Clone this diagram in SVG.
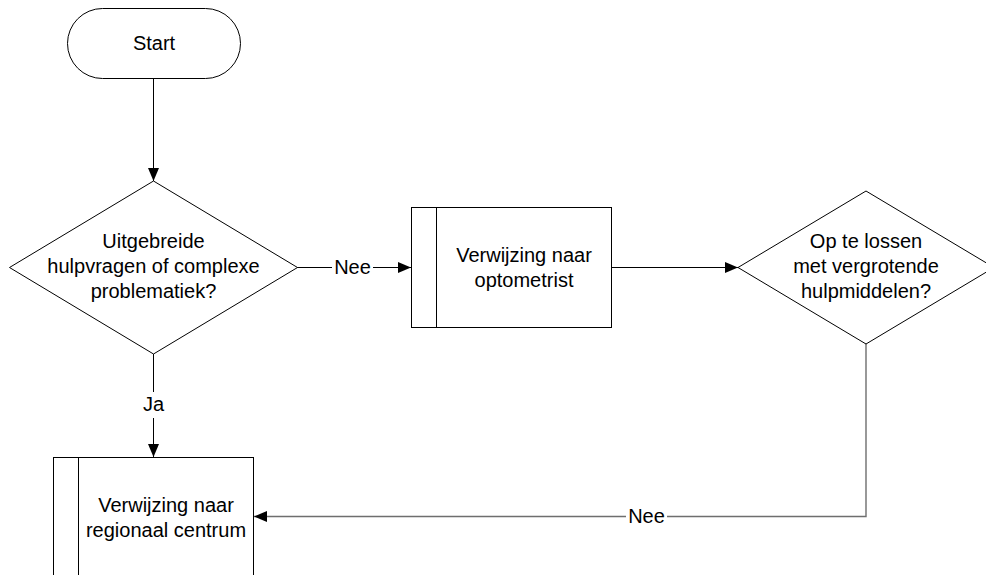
<svg xmlns="http://www.w3.org/2000/svg" width="986" height="575" viewBox="0 0 986 575">
<style>
.shape{fill:#fff;stroke:#000;stroke-width:1}
.conn{fill:none;stroke:#000;stroke-width:1}
.gray{stroke:#6e6e6e;stroke-width:1.4}
text{font-family:"Liberation Sans",Arial,sans-serif;font-size:20px;fill:#000;text-anchor:middle}
.lblbg{fill:#fff;stroke:none}
</style>
<defs>
<marker id="arr" markerUnits="userSpaceOnUse" markerWidth="14" markerHeight="12" refX="13" refY="5.5" orient="auto">
<path d="M0,0 L13,5.5 L0,11 Z" fill="#000"/>
</marker>
</defs>
<g id="connectors">
<path class="conn" d="M153.5,78 V181" marker-end="url(#arr)"/>
<path class="conn" d="M297,267.5 H411" marker-end="url(#arr)"/>
<rect class="lblbg" x="332" y="255" width="41" height="24"/>
<text x="352.5" y="274">Nee</text>
<path class="conn" d="M612,267.5 H738" marker-end="url(#arr)"/>
<path class="conn gray" d="M866,344 V516.5 H254" marker-end="url(#arr)"/>
<rect class="lblbg" x="626" y="504" width="41" height="24"/>
<text x="646.5" y="523">Nee</text>
<path class="conn" d="M153.5,354 V457" marker-end="url(#arr)"/>
<rect class="lblbg" x="140" y="392" width="27" height="26"/>
<text x="153.5" y="411">Ja</text>
</g>
<g id="start">
<rect class="shape" x="67.5" y="8.5" width="173" height="70" rx="35" ry="35"/>
<text x="154" y="50">Start</text>
</g>
<g id="decision1">
<polygon class="shape" points="153.5,181 297.5,267.5 153.5,354 9.5,267.5"/>
<text x="153.5" y="248">Uitgebreide</text>
<text x="153.5" y="273">hulpvragen of complexe</text>
<text x="153.5" y="298">problematiek?</text>
</g>
<g id="process1">
<rect class="shape" x="411.5" y="207.5" width="200" height="120"/>
<line class="conn" x1="436.5" y1="207.5" x2="436.5" y2="327.5"/>
<text x="524" y="262">Verwijzing naar</text>
<text x="524" y="287">optometrist</text>
</g>
<g id="decision2">
<polygon class="shape" points="866,191 994,267.5 866,344 738,267.5"/>
<text x="866" y="248">Op te lossen</text>
<text x="866" y="273">met vergrotende</text>
<text x="866" y="298">hulpmiddelen?</text>
</g>
<g id="process2">
<rect class="shape" x="53.5" y="457.5" width="200" height="120"/>
<line class="conn" x1="78.5" y1="457.5" x2="78.5" y2="577.5"/>
<text x="166" y="512">Verwijzing naar</text>
<text x="166" y="537">regionaal centrum</text>
</g>
</svg>
